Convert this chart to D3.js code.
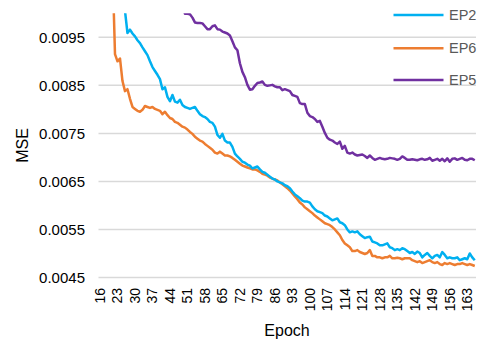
<!DOCTYPE html>
<html>
<head>
<meta charset="utf-8">
<script src="https://cdn.jsdelivr.net/npm/d3@7"></script>
<style>
  body { margin: 0; background: #fff; }
  text { font-family: "Liberation Sans", Arial, sans-serif; }
</style>
</head>
<body>
<div id="chart"></div>
<script>
// epochs 16..166
const epochs = d3.range(16, 167);
const tickLabels = d3.range(16, 167, 7);
const yTicks = [0.0045, 0.0055, 0.0065, 0.0075, 0.0085, 0.0095];
const seriesNames = ["EP2", "EP6", "EP5"];

const ep2 = [
  0.0135, 0.0131, 0.0127, 0.0124, 0.0121, 0.0118, 0.0115, 0.0112, 0.0109, 0.0106,
  0.01005, 0.00959, 0.00966, 0.00958, 0.00952, 0.00944, 0.00938, 0.00929, 0.00921, 0.00913,
  0.00900, 0.00888, 0.00880, 0.00872, 0.00863, 0.00842, 0.00846, 0.00826, 0.00817, 0.00830,
  0.00816, 0.00814, 0.00820, 0.00809, 0.00805, 0.00803, 0.00801, 0.00803, 0.00805, 0.00797,
  0.00790, 0.00786, 0.00784, 0.00780, 0.00774, 0.00772, 0.00764, 0.00747, 0.00741, 0.00749,
  0.00735, 0.00731, 0.00731, 0.00722, 0.00708, 0.00702, 0.00697, 0.00691, 0.00689, 0.00685,
  0.00683, 0.00677, 0.00679, 0.00681, 0.00675, 0.00670, 0.00668, 0.00664, 0.00660, 0.00656,
  0.00654, 0.00650, 0.00648, 0.00646, 0.00642, 0.00640, 0.00636, 0.00629, 0.00623, 0.00619,
  0.00615, 0.00610, 0.00608, 0.00608, 0.00606, 0.00598, 0.00592, 0.00588, 0.00586, 0.00584,
  0.00579, 0.00577, 0.00573, 0.00569, 0.00571, 0.00573, 0.00565, 0.00563, 0.00559, 0.00550,
  0.00544, 0.00546, 0.00544, 0.00546, 0.00540, 0.00536, 0.00532, 0.00534, 0.00535, 0.00525,
  0.00523, 0.00521, 0.00517, 0.00517, 0.00519, 0.00521, 0.00513, 0.00511, 0.00507, 0.00509,
  0.00507, 0.00511, 0.00509, 0.00505, 0.00501, 0.00503, 0.00499, 0.00504, 0.00501, 0.00492,
  0.00497, 0.00501, 0.00495, 0.00490, 0.00495, 0.00497, 0.00492, 0.00503, 0.00497, 0.00490,
  0.00492, 0.00490, 0.00490, 0.00492, 0.00486, 0.00488, 0.00490, 0.00488, 0.00500, 0.00492,
  0.00486
];

const ep6 = [
  0.0150, 0.0140, 0.0132, 0.0125, 0.0118, 0.0110,
  0.00915, 0.00900, 0.00906, 0.00859, 0.00838, 0.00842, 0.00822, 0.00805, 0.00801, 0.00797,
  0.00795, 0.00799, 0.00807, 0.00805, 0.00803, 0.00805, 0.00801, 0.00799, 0.00797, 0.00790,
  0.00795, 0.00788, 0.00782, 0.00780, 0.00774, 0.00772, 0.00768, 0.00764, 0.00762, 0.00758,
  0.00753, 0.00749, 0.00743, 0.00739, 0.00735, 0.00733, 0.00728, 0.00724, 0.00720, 0.00716,
  0.00710, 0.00708, 0.00712, 0.00708, 0.00704, 0.00704, 0.00702, 0.00699, 0.00695, 0.00691,
  0.00687, 0.00683, 0.00681, 0.00679, 0.00677, 0.00675, 0.00675, 0.00673, 0.00670, 0.00666,
  0.00664, 0.00662, 0.00658, 0.00656, 0.00654, 0.00652, 0.00648, 0.00644, 0.00640, 0.00636,
  0.00631, 0.00625, 0.00619, 0.00613, 0.00606, 0.00602, 0.00596, 0.00592, 0.00588, 0.00584,
  0.00579, 0.00575, 0.00571, 0.00567, 0.00563, 0.00561, 0.00559, 0.00555, 0.00550, 0.00544,
  0.00538, 0.00528, 0.00521, 0.00517, 0.00513, 0.00505, 0.00505, 0.00507, 0.00503, 0.00501,
  0.00499, 0.00501, 0.00507, 0.00495, 0.00495, 0.00492, 0.00492, 0.00490, 0.00492, 0.00492,
  0.00495, 0.00490, 0.00490, 0.00491, 0.00490, 0.00488, 0.00490, 0.00490, 0.00490, 0.00486,
  0.00484, 0.00482, 0.00484, 0.00480, 0.00482, 0.00484, 0.00486, 0.00482, 0.00480, 0.00482,
  0.00478, 0.00476, 0.00480, 0.00478, 0.00480, 0.00478, 0.00476, 0.00478, 0.00478, 0.00480,
  0.00478, 0.00476, 0.00478, 0.00476, 0.00474
];

const ep5 = [
  0.0168, 0.0163, 0.0158, 0.0154, 0.0150, 0.0146, 0.0143, 0.0140, 0.0137, 0.0134,
  0.0131, 0.0129, 0.0126, 0.0124, 0.0122, 0.0120, 0.0118, 0.0116, 0.0115, 0.0113,
  0.0112, 0.0111, 0.0110, 0.0109, 0.0108, 0.0107, 0.0106, 0.0106, 0.0105, 0.0105,
  0.0104, 0.0104, 0.0103, 0.0103,
  0.00999, 0.00999, 0.00998, 0.00991, 0.00981, 0.00980, 0.00980, 0.00979, 0.00973, 0.00967,
  0.00967, 0.00973, 0.00975, 0.00967, 0.00966, 0.00962, 0.00960, 0.00958, 0.00954, 0.00942,
  0.00929, 0.00923, 0.00896, 0.00878, 0.00867, 0.00851, 0.00841, 0.00842, 0.00849, 0.00855,
  0.00856, 0.00858, 0.00851, 0.00849, 0.00850, 0.00851, 0.00848, 0.00846, 0.00846, 0.00840,
  0.00842, 0.00840, 0.00838, 0.00830, 0.00828, 0.00826, 0.00813, 0.00811, 0.00811, 0.00793,
  0.00786, 0.00784, 0.00780, 0.00774, 0.00776, 0.00764, 0.00751, 0.00741, 0.00737, 0.00735,
  0.00731, 0.00728, 0.00733, 0.00718, 0.00724, 0.00710, 0.00708, 0.00710, 0.00706, 0.00704,
  0.00705, 0.00706, 0.00703, 0.00699, 0.00704, 0.00699, 0.00695, 0.00697, 0.00699, 0.00697,
  0.00696, 0.00697, 0.00699, 0.00698, 0.00697, 0.00695, 0.00697, 0.00702, 0.00699, 0.00695,
  0.00695, 0.00696, 0.00695, 0.00694, 0.00696, 0.00697, 0.00695, 0.00696, 0.00699, 0.00693,
  0.00695, 0.00697, 0.00693, 0.00697, 0.00692, 0.00698, 0.00691, 0.00697, 0.00698, 0.00695,
  0.00697, 0.00699, 0.00695, 0.00694, 0.00697, 0.00697, 0.00694
];

const width = 482, height = 341;
const colors = { EP2: "#00b0f0", EP6: "#ed7d31", EP5: "#7030a0" };
const seriesData = { EP2: ep2, EP6: ep6, EP5: ep5 };

const svg = d3.select("#chart").append("svg")
  .attr("width", width)
  .attr("height", height);

const x = d3.scalePoint()
  .domain(epochs)
  .range([98.75, 476])
  .padding(0.5);

const y = d3.scaleLinear()
  .domain([0.0045, 0.0100])
  .range([277.5, 13.3]);

// grid lines
svg.append("g")
  .selectAll("line")
  .data(yTicks)
  .enter().append("line")
  .attr("x1", 98.5)
  .attr("x2", 476)
  .attr("y1", d => y(d))
  .attr("y2", d => y(d))
  .attr("stroke", "#d9d9d9")
  .attr("stroke-width", 1.5);

// y tick labels
svg.append("g")
  .selectAll("text")
  .data(yTicks)
  .enter().append("text")
  .attr("x", 85)
  .attr("y", d => y(d))
  .attr("dy", "0.35em")
  .attr("text-anchor", "end")
  .attr("font-size", 15)
  .attr("fill", "#000")
  .text(d => d.toFixed(4));

// x tick labels
svg.append("g")
  .selectAll("text")
  .data(tickLabels)
  .enter().append("text")
  .attr("transform", d => "translate(" + x(d) + ",288) rotate(-90)")
  .attr("dy", "0.35em")
  .attr("text-anchor", "end")
  .attr("font-size", 14)
  .attr("fill", "#000")
  .text(d => d);

// axis titles
svg.append("text")
  .attr("transform", "translate(22,145.5) rotate(-90)")
  .attr("dy", "0.35em")
  .attr("text-anchor", "middle")
  .attr("font-size", 16)
  .text("MSE");

svg.append("text")
  .attr("x", 287)
  .attr("y", 336)
  .attr("text-anchor", "middle")
  .attr("font-size", 16)
  .text("Epoch");

// clip
svg.append("clipPath")
  .attr("id", "plotclip")
  .append("rect")
  .attr("x", 96)
  .attr("y", 13.3)
  .attr("width", 384)
  .attr("height", 290);

const line = d3.line()
  .x((d, i) => x(epochs[i]))
  .y(d => y(d));

const lines = svg.append("g").attr("clip-path", "url(#plotclip)");

// draw in order so that EP2 ends up on top, like the reference
["EP5", "EP6", "EP2"].forEach(name => {
  lines.append("path")
    .datum(seriesData[name])
    .attr("fill", "none")
    .attr("stroke", colors[name])
    .attr("stroke-width", 2.5)
    .attr("stroke-linejoin", "round")
    .attr("d", line);
});

// legend
const legendY = [15, 48.3, 80];
const legend = svg.append("g")
  .selectAll("g")
  .data(seriesNames)
  .enter().append("g")
  .attr("transform", (d, i) => "translate(0," + legendY[i] + ")");

legend.append("line")
  .attr("x1", 393.5)
  .attr("x2", 443.5)
  .attr("stroke", d => colors[d])
  .attr("stroke-width", 2.5);

legend.append("text")
  .attr("x", 449)
  .attr("dy", "0.35em")
  .attr("font-size", 14.5)
  .attr("fill", "#595959")
  .text(d => d);
</script>
</body>
</html>
